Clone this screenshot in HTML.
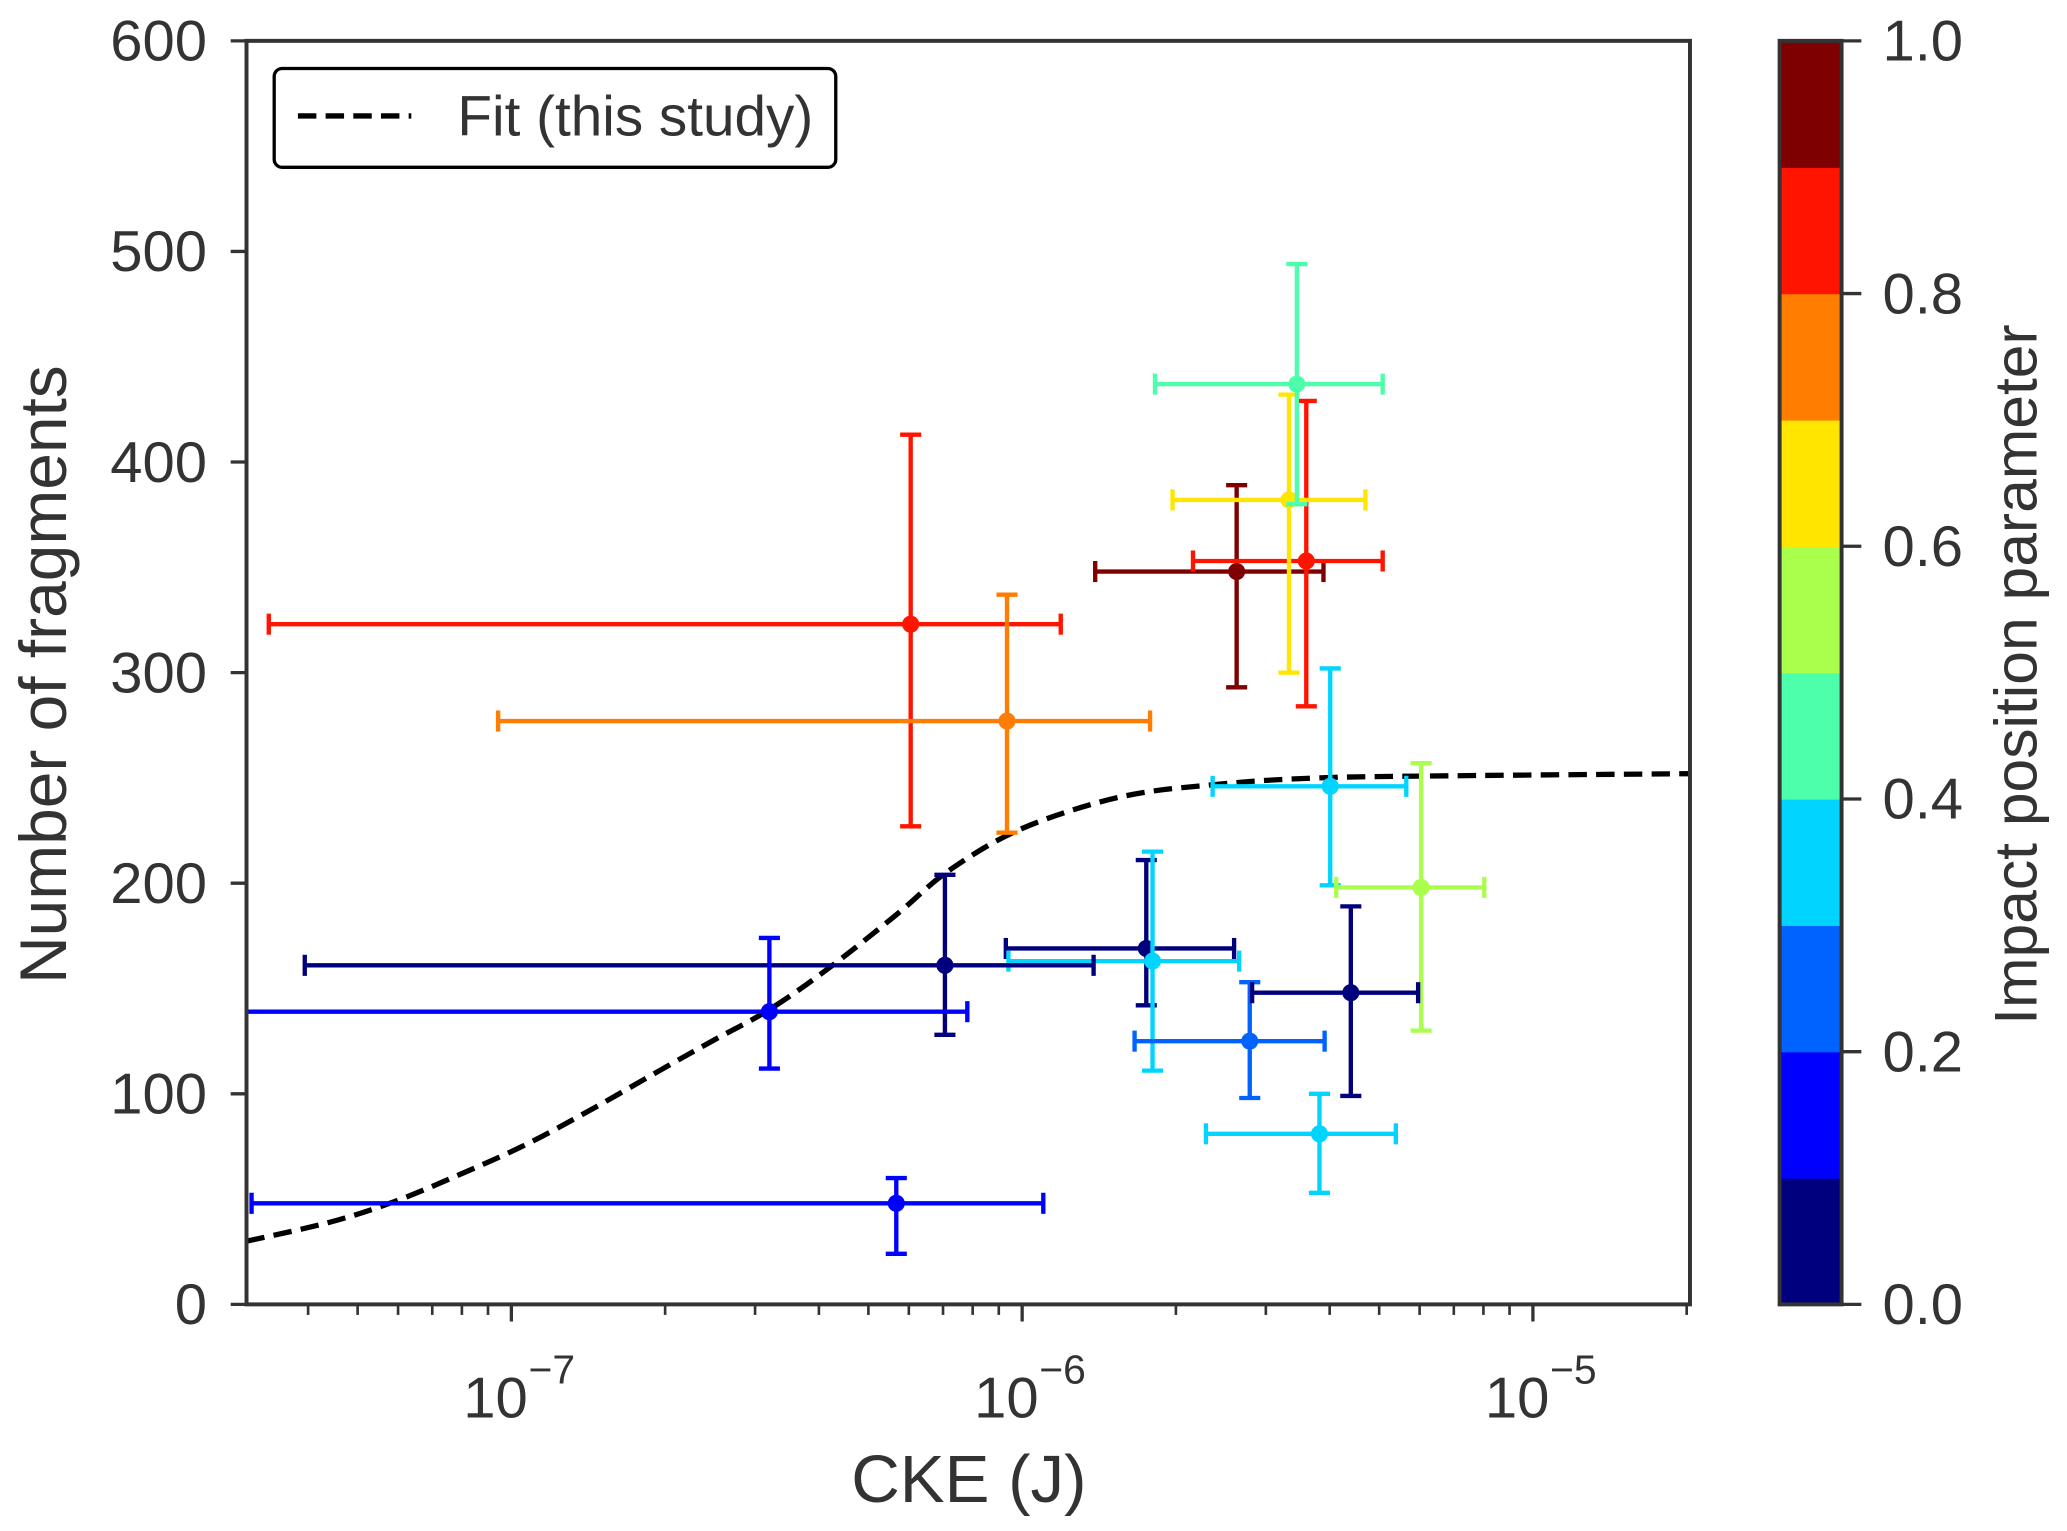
<!DOCTYPE html>
<html><head><meta charset="utf-8"><style>
html,body{margin:0;padding:0;background:#fff;}
svg{display:block;font-family:"Liberation Sans",sans-serif;}
</style></head><body>
<svg id="chart" width="2067" height="1531" viewBox="0 0 1568 1162" preserveAspectRatio="none" xmlns="http://www.w3.org/2000/svg">
<defs><clipPath id="pc"><rect x="187" y="31" width="1095" height="959"/></clipPath></defs>
<g id="cb"></g>
<g id="fit" clip-path="url(#pc)"></g>
<g id="pts" clip-path="url(#pc)"></g>
<g id="axes"></g>
<g>
<rect x="208" y="52" width="426" height="75" rx="6" fill="#fff" stroke="#000" stroke-width="2.5"/>
<line x1="226" y1="88" x2="312" y2="88" stroke="#000" stroke-width="4" stroke-dasharray="14,7"/>
<text x="347" y="103" font-size="43" fill="#333">Fit (this study)</text>
</g>
<text x="735" y="1140" font-size="51" fill="#333" text-anchor="middle">CKE (J)</text>
<text transform="translate(50,512) rotate(-90)" font-size="50" fill="#333" text-anchor="middle">Number of fragments</text>
<text transform="translate(1545,512) rotate(-90)" font-size="46" fill="#333" text-anchor="middle">Impact position parameter</text>
</svg>
<script>
const ptX=[6.05e-7,9.34e-7,2.63e-6,3.60e-6,3.33e-6,3.45e-6,4.01e-6,6.04e-6,1.75e-6,1.80e-6,7.06e-7,3.20e-7,2.79e-6,4.40e-6,3.82e-6,5.67e-7];
const ptXlo=[3.35e-8,9.42e-8,1.39e-6,2.16e-6,1.97e-6,1.82e-6,2.36e-6,4.12e-6,9.29e-7,9.40e-7,3.94e-8,2.0e-8,1.66e-6,2.82e-6,2.29e-6,3.10e-8];
const ptXhi=[1.19e-6,1.78e-6,3.89e-6,5.08e-6,4.70e-6,5.08e-6,5.65e-6,8.03e-6,2.60e-6,2.66e-6,1.38e-6,7.81e-7,3.91e-6,5.96e-6,5.39e-6,1.10e-6];
const ptY=[323,277,348,353,382,437,246,198,169,163,161,139,125,148,81,48];
const ptYlo=[227,224,293,284,300,380,199,130,142,111,128,112,98,99,53,24];
const ptYhi=[413,337,389,429,432,494,302,257,211,215,204,174,153,189,100,60];
const ptC=[0.85,0.75,0.95,0.85,0.65,0.45,0.35,0.55,0.05,0.35,0.05,0.15,0.25,0.05,0.35,0.15];
const fitX=[3.03e-8,4.41e-8,5.93e-8,7.98e-8,1.07e-7,1.445e-7,1.95e-7,2.47e-7,3.2e-7,4.2e-7,5.67e-7,7.19e-7,1e-6,1.56e-6,2.42e-6,3.79e-6,6.88e-6,2.03e-5];
const fitY=[30,39,49,62,76,93,111,125,140,160,185,206,226,241,247,250,251,252];
const yTicks=[0,100,200,300,400,500,600];
const cbTicks=[0,0.2,0.4,0.6,0.8,1.0];
const cbColors=["#00007f","#0000ff","#0063ff","#00d4ff","#4dffaa","#aaff4d","#ffe500","#ff7d00","#ff1400","#7f0000"];
const NS="http://www.w3.org/2000/svg";
const L=187,R=1282,T=31,B=990,xmin=Math.log10(3.03e-8),xmax=Math.log10(2.03e-5);
function sx(v){return L+(Math.log10(v)-xmin)/(xmax-xmin)*(R-L);}
function sy(v){return B-v/600*(B-T);}
function cby(v){return B-v*(B-T);}
function mk(p,tag,at){const e=document.createElementNS(NS,tag);for(const k in at)e.setAttribute(k,at[k]);p.appendChild(e);return e;}
function col(c){return cbColors[Math.min(9,Math.floor(c*10))];}
const cb=document.getElementById('cb');
cbColors.forEach((c,i)=>{const r=mk(cb,'rect',{x:1350,y:cby((i+1)/10),width:47,height:(B-T)/10+0.5,fill:c});

});
mk(cb,'rect',{x:1350,y:T,width:47,height:B-T,fill:'none',stroke:'#333','stroke-width':3});
cbTicks.forEach(v=>{mk(cb,'line',{x1:1397,x2:1412,y1:cby(v),y2:cby(v),stroke:'#333','stroke-width':2.5});
const t=mk(cb,'text',{x:1428,y:cby(v)+15,'font-size':44,fill:'#333'});t.textContent=v.toFixed(1);

});
const fit=document.getElementById('fit');
const P=fitX.map((x,i)=>[sx(x),sy(fitY[i])]);
let d='M'+P[0][0]+','+P[0][1];
for(let i=0;i<P.length-1;i++){const p0=P[Math.max(0,i-1)],p1=P[i],p2=P[i+1],p3=P[Math.min(P.length-1,i+2)];
d+=' C'+(p1[0]+(p2[0]-p0[0])/6)+','+(p1[1]+(p2[1]-p0[1])/6)+' '+(p2[0]-(p3[0]-p1[0])/6)+','+(p2[1]-(p3[1]-p1[1])/6)+' '+p2[0]+','+p2[1];}
const fl=mk(fit,'path',{d:d,fill:'none',stroke:'#000','stroke-width':4,'stroke-dasharray':'14,7'});


const pts=document.getElementById('pts');
ptX.forEach((x,i)=>{const g=mk(pts,'g',{stroke:col(ptC[i]),'stroke-width':3.3,fill:col(ptC[i])});


const cx=sx(x),cy=sy(ptY[i]),x1=sx(ptXlo[i]),x2=sx(ptXhi[i]),y1=sy(ptYlo[i]),y2=sy(ptYhi[i]);
mk(g,'line',{x1:x1,x2:x2,y1:cy,y2:cy});mk(g,'line',{x1:cx,x2:cx,y1:y1,y2:y2});
[x1,x2].forEach(xx=>mk(g,'line',{x1:xx,x2:xx,y1:cy-8,y2:cy+8}));
[y1,y2].forEach(yy=>mk(g,'line',{x1:cx-8,x2:cx+8,y1:yy,y2:yy}));
mk(g,'circle',{cx:cx,cy:cy,r:6.5,stroke:'none'});});
const ax=document.getElementById('axes');
mk(ax,'rect',{x:L,y:T,width:R-L,height:B-T,fill:'none',stroke:'#333','stroke-width':3});
yTicks.forEach(v=>{mk(ax,'line',{x1:L-12,x2:L,y1:sy(v),y2:sy(v),stroke:'#333','stroke-width':2.5});
const t=mk(ax,'text',{x:L-30,y:sy(v)+15,'font-size':44,fill:'#333','text-anchor':'end'});t.textContent=v;

});
for(let e=-8;e<=-5;e++)for(let m=1;m<10;m++){const v=m*Math.pow(10,e);const lx=sx(v);if(lx<L-0.5||lx>R+0.5)continue;
mk(ax,'line',{x1:lx,x2:lx,y1:B,y2:B+(m==1?13:8),stroke:'#333','stroke-width':m==1?2.5:2});
if(m==1){const t=mk(ax,'text',{x:lx-12,y:B+86,'font-size':44,fill:'#333','text-anchor':'middle'});t.textContent='10';


const s=mk(ax,'text',{x:lx+13,y:B+60,'font-size':31,fill:'#333'});s.textContent='\u2212'+(-e);}}
</script>
</body></html>
